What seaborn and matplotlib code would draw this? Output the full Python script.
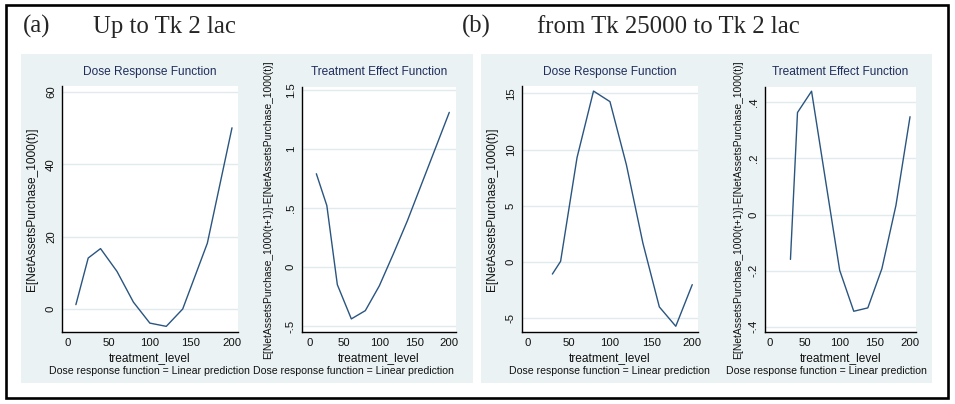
import matplotlib
matplotlib.use("Agg")
import matplotlib.pyplot as plt
from matplotlib.patches import Rectangle
import seaborn as sns
import pandas as pd

# ---- data -------------------------------------------------------------
levels_a = [10, 25, 40, 60, 80, 100, 120, 140, 170, 200]
drf_a = [1.2, 14.1, 16.7, 10.4, 1.9, -3.9, -4.8, 0.0, 18.2, 50.1]
tef_a = [0.79, 0.52, -0.15, -0.44, -0.37, -0.16, 0.11, 0.39, 0.85, 1.31]

levels_b = [30, 40, 60, 80, 100, 120, 140, 160, 180, 200]
drf_b = [-1.07, 0.06, 9.29, 15.2, 14.26, 8.64, 1.69, -3.99, -5.71, -2.01]
tef_b = [-0.16, 0.364, 0.44, 0.12, -0.199, -0.345, -0.333, -0.193, 0.033, 0.349]

x_ticks = [0, 50, 100, 150, 200]
drf_a_ticks = [0, 20, 40, 60]
drf_a_labels = ["0", "20", "40", "60"]
tef_a_ticks = [-0.5, 0, 0.5, 1, 1.5]
tef_a_labels = ["-.5", "0", ".5", "1", "1.5"]
drf_b_ticks = [-5, 0, 5, 10, 15]
drf_b_labels = ["-5", "0", "5", "10", "15"]
tef_b_ticks = [-0.4, -0.2, 0, 0.2, 0.4]
tef_b_labels = ["-.4", "-.2", "0", ".2", ".4"]

headers = [("(a)", "Up to Tk 2 lac"), ("(b)", "from Tk 25000 to Tk 2 lac")]
drf_title = "Dose Response Function"
tef_title = "Treatment Effect Function"
x_name = "treatment_level"
drf_ylabel = "E[NetAssetsPurchase_1000(t)]"
tef_ylabel = "E[NetAssetsPurchase_1000(t+1)]-E[NetAssetsPurchase_1000(t)]"
note = "Dose response function = Linear prediction"

# ---- styling ----------------------------------------------------------
sns.set_style("white")
plt.rcParams["font.family"] = ["Liberation Sans", "DejaVu Sans"]

W, H = 955, 404
fig = plt.figure(figsize=(W / 100, H / 100), dpi=100)
fig.patch.set_facecolor("white")

PANEL_BG = "#EAF2F3"
GRID = "#E1EAEC"
LINE = "#2A5580"
TITLE_C = "#1F2D5C"


def fx(x):
    return x / W


def fy(y):
    return 1 - y / H


def add_rect(x0, y0, x1, y1, **kw):
    fig.patches.append(Rectangle((fx(x0), fy(y1)), fx(x1) - fx(x0), fy(y0) - fy(y1),
                                 transform=fig.transFigure, **kw))


# panel backgrounds (behind the axes)
add_rect(21, 54, 473, 383, facecolor=PANEL_BG, edgecolor="none", zorder=-5)
add_rect(481, 54, 932, 383, facecolor=PANEL_BG, edgecolor="none", zorder=-5)
# outer frame
add_rect(6, 5, 948, 398, facecolor="none", edgecolor="black", linewidth=1.9, zorder=5)


def make_plot(box, xlim, ylim, xs, ys, yticks, ylabels, title, ylab, ylab_x, ylab_size,
              note_x):
    x0, y0, x1, y1 = box
    ax = fig.add_axes([fx(x0), fy(y1), fx(x1) - fx(x0), fy(y0) - fy(y1)])
    ax.set_facecolor("white")
    df = pd.DataFrame({"level": xs, "value": ys})
    sns.lineplot(data=df, x="level", y="value", ax=ax, color=LINE, linewidth=1.0,
                 sort=False, zorder=3)
    ax.set_xlim(*xlim)
    ax.set_ylim(*ylim)
    ax.set_xticks(x_ticks)
    ax.set_xticklabels([str(t) for t in x_ticks])
    ax.set_yticks(yticks)
    ax.set_yticklabels(ylabels)
    for t in yticks:
        ax.axhline(t, color=GRID, linewidth=1.0, zorder=1)
    for s in ["top", "right"]:
        ax.spines[s].set_visible(False)
    for s in ["left", "bottom"]:
        ax.spines[s].set_color("black")
        ax.spines[s].set_linewidth(1.0)
    ax.tick_params(axis="both", direction="out", length=3.2, width=0.9, color="black",
                   labelsize=8.2, labelcolor="#111111", pad=1.2)
    ax.tick_params(axis="y", labelrotation=90)
    for lab in ax.get_yticklabels():
        lab.set_va("center")
    ax.set_xlabel("")
    ax.set_ylabel("")
    cx = (x0 + x1) / 2
    fig.text(fx(cx), fy(72), title, ha="center", va="center", fontsize=8.6, color=TITLE_C)
    fig.text(fx(cx), fy(358), x_name, ha="center", va="center", fontsize=8.6, color="#111111")
    fig.text(fx(note_x), fy(371), note, ha="left", va="center", fontsize=7.6, color="#111111")
    fig.text(fx(ylab_x), fy((y0 + y1) / 2), ylab, ha="center", va="center", rotation=90,
             fontsize=ylab_size, color="#111111")
    return ax


make_plot((62, 86, 238, 332), (-6.9, 207.3), (-6.36, 61.66), levels_a, drf_a,
          drf_a_ticks, drf_a_labels, drf_title, drf_ylabel, 32, 8.55, 49)
make_plot((302, 87, 456, 332), (-10.5, 209.6), (-0.551, 1.525), levels_a, tef_a,
          tef_a_ticks, tef_a_labels, tef_title, tef_ylabel, 268, 7.4, 253)
make_plot((522, 86, 698, 332), (-6.9, 207.0), (-6.22, 15.65), levels_b, drf_b,
          drf_b_ticks, drf_b_labels, drf_title, drf_ylabel, 492, 8.55, 509)
make_plot((765, 87, 916, 332), (-6.2, 208.5), (-0.419, 0.455), levels_b, tef_b,
          tef_b_ticks, tef_b_labels, tef_title, tef_ylabel, 738, 7.4, 726)

# panel headers
serif = ["Liberation Serif", "DejaVu Serif"]
for (tag, text), (tx, ttx) in zip(headers, [(23, 93), (462, 537)]):
    fig.text(fx(tx), fy(33), tag, ha="left", va="baseline", fontsize=17.8, family=serif)
    fig.text(fx(ttx), fy(33), text, ha="left", va="baseline", fontsize=17.8, family=serif)

fig.savefig("out.png", dpi=100)
